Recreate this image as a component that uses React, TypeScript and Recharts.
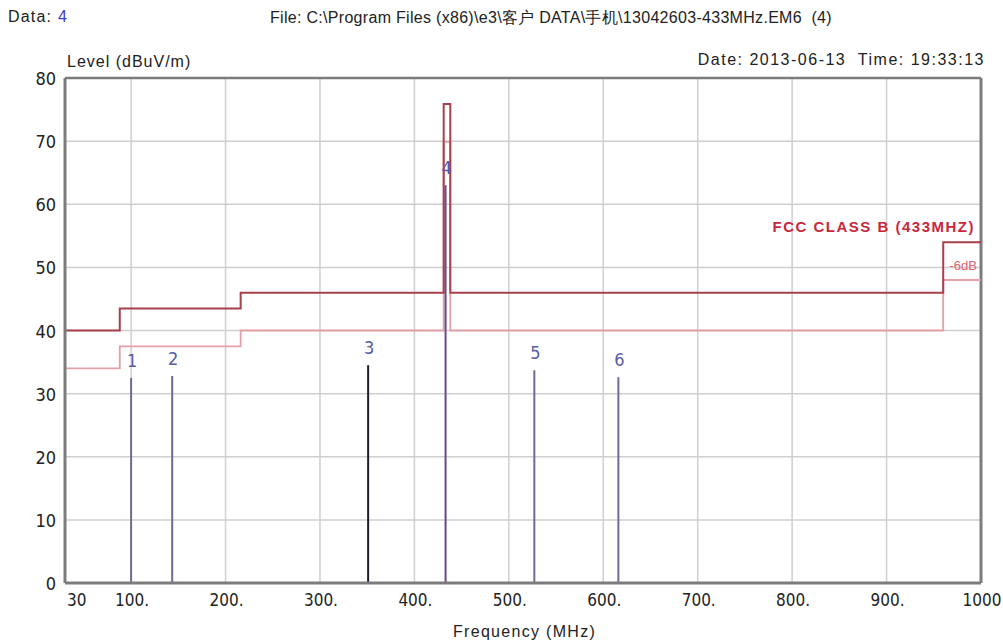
import React from 'react';
import {
  ComposedChart,
  Line,
  XAxis,
  YAxis,
  CartesianGrid,
  ReferenceLine,
} from 'recharts';

// axis ticks
const freqTicks = [30, 100, 200, 300, 400, 500, 600, 700, 800, 900, 1000];
const levelTicks = [0, 10, 20, 30, 40, 50, 60, 70, 80];

// FCC class B limit (step form) and the -6dB margin line
const limitFreq = [30, 88, 88, 216, 216, 431, 431, 438, 438, 960, 960, 1000];
const limitLevel = [40, 40, 43.5, 43.5, 46, 46, 75.9, 75.9, 46, 46, 54, 54];
const marginLevel = [34, 34, 37.5, 37.5, 40, 40, 69.9, 69.9, 40, 40, 48, 48];

// peak markers
const markerIds = ['1', '2', '3', '4', '5', '6'];
const markerFreq = [100, 143.5, 351, 433, 527, 616];
const markerLevel = [32.5, 32.8, 34.5, 63, 33.7, 32.6];
const markerColor = ['#6c6c98', '#6c6c98', '#1c1c2c', '#6a4a8a', '#6c6c98', '#6c6c98'];

const limitData = limitFreq.map((f, i) => ({ f, v: limitLevel[i] }));
const marginData = limitFreq.map((f, i) => ({ f, v: marginLevel[i] }));

const FONT = '"Liberation Sans", Arial, sans-serif';
const NARROW = '"Liberation Sans Narrow", "DejaVu Sans Condensed", "Liberation Sans", sans-serif';
const LIMIT_RED = '#a8404c';
const MARGIN_PINK = '#e3a0a6';
const AXIS_GRAY = '#7c7c7c';

const FreqTick = (props: any) => {
  const { x, y, payload } = props;
  const v = payload.value;
  const txt = v === 30 || v === 1000 ? String(v) : `${v}.`;
  const anchor = v === 30 ? 'start' : 'middle';
  return (
    <text x={v === 30 ? x + 2 : x + 1} y={y + 15} textAnchor={anchor} fontSize={17} fontFamily={NARROW} fill="#222">
      {txt}
    </text>
  );
};

const LevelTick = (props: any) => {
  const { x, y, payload } = props;
  return (
    <text x={x - 1} y={y + 7} textAnchor="end" fontSize={18} fontFamily={NARROW} fill="#222">
      {payload.value}
    </text>
  );
};

const markerLabel = (id: string) => (props: any) => {
  const { x, y, index } = props;
  if (index !== 1) return <g />;
  return (
    <text x={x + 1} y={y - 11} textAnchor="middle" fontSize={18} fontFamily={NARROW} fill="#5a5aa6">
      {id}
    </text>
  );
};

const txt: React.CSSProperties = {
  position: 'absolute',
  fontFamily: FONT,
  fontSize: 16,
  color: '#222',
  whiteSpace: 'nowrap',
  lineHeight: 1,
};

export default function App() {
  return (
    <div style={{ position: 'absolute', left: 0, top: 0, width: 1003, height: 644, background: '#fff' }}>
      <ComposedChart
        width={1003}
        height={644}
        margin={{ top: 78, right: 22, bottom: 31, left: 0 }}
      >
        <CartesianGrid stroke="#cfcfcf" strokeWidth={1.5} />
        <XAxis
          type="number"
          dataKey="f"
          domain={[30, 1000]}
          ticks={freqTicks}
          interval={0}
          height={30}
          tickLine={false}
          axisLine={{ stroke: AXIS_GRAY, strokeWidth: 3 }}
          tick={<FreqTick />}
          allowDataOverflow
        />
        <YAxis
          type="number"
          domain={[0, 80]}
          ticks={levelTicks}
          interval={0}
          width={65}
          tickLine={false}
          axisLine={{ stroke: AXIS_GRAY, strokeWidth: 3 }}
          tick={<LevelTick />}
        />
        <ReferenceLine y={80} stroke={AXIS_GRAY} strokeWidth={2.5} />
        <ReferenceLine x={1000} stroke={AXIS_GRAY} strokeWidth={3} />
        <Line
          data={marginData}
          dataKey="v"
          type="linear"
          stroke={MARGIN_PINK}
          strokeWidth={1.8}
          dot={false}
          isAnimationActive={false}
        />
        <Line
          data={limitData}
          dataKey="v"
          type="linear"
          stroke={LIMIT_RED}
          strokeWidth={2}
          dot={false}
          isAnimationActive={false}
        />
        {markerIds.map((id, i) => (
          <Line
            key={id}
            data={[
              { f: markerFreq[i], v: 0 },
              { f: markerFreq[i], v: markerLevel[i] },
            ]}
            dataKey="v"
            type="linear"
            stroke={markerColor[i]}
            strokeWidth={2}
            dot={false}
            label={markerLabel(id)}
            isAnimationActive={false}
          />
        ))}
      </ComposedChart>

      <div style={{ ...txt, left: 8, top: 9, letterSpacing: 1.2 }}>
        Data: <span style={{ color: '#3a3ac8' }}>4</span>
      </div>
      <div style={{ ...txt, left: 270, top: 10, letterSpacing: 0.3 }}>
        File: C:\Program Files (x86)\e3\客户 DATA\手机\13042603-433MHz.EM6&nbsp; (4)
      </div>
      <div style={{ ...txt, left: 67, top: 54, letterSpacing: 1 }}>Level (dBuV/m)</div>
      <div style={{ ...txt, right: 18, top: 52, letterSpacing: 1.5 }}>Date: 2013-06-13&nbsp; Time: 19:33:13</div>
      <div style={{ ...txt, left: 453, top: 624, letterSpacing: 1.3 }}>Frequency (MHz)</div>
      <div style={{ ...txt, right: 28, top: 219, color: '#c8283c', fontWeight: 'bold', fontSize: 15, letterSpacing: 1.5 }}>
        FCC CLASS B (433MHZ)
      </div>
      <div style={{ ...txt, right: 26, top: 259, color: '#e06070', fontSize: 13 }}>-6dB</div>
    </div>
  );
}
